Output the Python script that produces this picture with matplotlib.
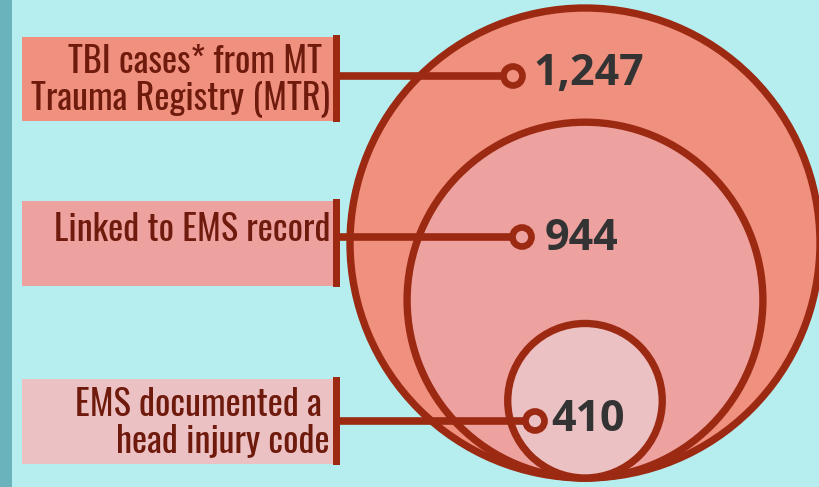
import matplotlib.pyplot as plt
from matplotlib import font_manager
from matplotlib.patches import Circle, Rectangle

# --- data ---
labels = ["TBI cases* from MT \nTrauma Registry (MTR)",
          "Linked to EMS record",
          "EMS documented a \nhead injury code"]
counts = [1247, 944, 410]
count_text = ["1,247", "944", "410"]

# --- styling / layout ---
bg = "#b6eeef"
strip = "#6ab3bc"
fills = ["#f0907e", "#eda2a0", "#ecc1c3"]
edge = "#9c2a12"
label_color = "#6e1a0c"
num_color = "#333333"

box_top = [37, 201, 379]
box_h = [84, 85, 85]
first_baseline = [73, 241, 416]
line_y = [76, 237, 421]
marker_x = [513, 522, 535]
num_baseline = [85, 250, 431]
num_x = [533, 545, 551]

cx, bottom = 585, 478
r_max = 235

# pick a narrow font if one is installed
installed = {f.name for f in font_manager.fontManager.ttflist}
label_font, label_size = 'DejaVu Sans', 19
for name, size in [('Oswald', 26), ('Roboto Condensed', 25),
                   ('Liberation Sans Narrow', 24), ('Roboto', 21)]:
    if name in installed:
        label_font, label_size = name, size
        break

fig = plt.figure(figsize=(8.19, 4.87), dpi=100)
fig.patch.set_facecolor(bg)
ax = fig.add_axes([0, 0, 1, 1])
ax.set_xlim(0, 819)
ax.set_ylim(487, 0)
ax.axis('off')
ax.set_facecolor(bg)

ax.add_patch(Rectangle((0, 0), 12, 487, color=strip, lw=0))

# nested circles, radius proportional to count, bottom aligned
for c, fc in zip(counts, fills):
    r = r_max * c / counts[0]
    ax.add_patch(Circle((cx, bottom - r), r, facecolor=fc, edgecolor=edge, lw=5.3))

# label boxes, connectors, markers, numbers
for i in range(3):
    ax.add_patch(Rectangle((22, box_top[i]), 311, box_h[i], color=fills[i], lw=0))
    ax.add_patch(Rectangle((333, box_top[i] - 2), 7, box_h[i] + 3, color=edge, lw=0))
    ax.plot([338, marker_x[i]], [line_y[i], line_y[i]], color=edge, lw=5.5,
            solid_capstyle='butt')
    ax.add_patch(Circle((marker_x[i], line_y[i]), 9.5, facecolor=fills[i],
                        edgecolor=edge, lw=4.8, zorder=5))
    for j, line in enumerate(labels[i].split("\n")):
        ax.text(330, first_baseline[i] + 36 * j, line, ha='right', va='baseline',
                fontsize=label_size, color=label_color, family=label_font)
    ax.text(num_x[i], num_baseline[i], count_text[i], ha='left', va='baseline',
            fontsize=31, fontweight='bold', color=num_color, family='Open Sans',
            zorder=6)

fig.savefig("out.png", dpi=100, facecolor=bg)
